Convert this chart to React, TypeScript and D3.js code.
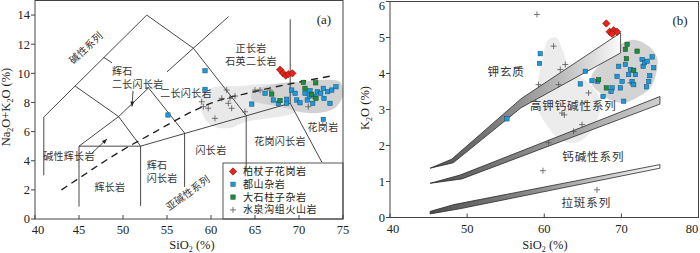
import { useEffect, useRef } from 'react';
import * as d3 from 'd3';

type Pt = [number, number];
type G = d3.Selection<SVGGElement, unknown, null, undefined>;

const serif = '"Liberation Serif", "Times New Roman", serif';
const cjk = '"Noto Sans CJK SC", sans-serif';

// ---------- (a) SiO2 vs Na2O+K2O ----------
const tasXTicks = [40, 45, 50, 55, 60, 65, 70, 75];
const tasYTicks = [0, 2, 4, 6, 8, 10, 12, 14];

// field boundaries
const tasLines: Pt[][] = [
  [[41, 3], [41, 7], [52.7, 14]],
  [[52.7, 14], [58, 11.72], [64, 7.1]],
  [[55, 10.1], [62, 13.9]],
  [[47.8, 11.1], [48.75, 10.72]],
  [[44.55, 9.13], [49.5, 7.03], [52, 5]],
  [[45, 5], [49.5, 7.03], [52.9, 9.0], [57, 5.9]],
  [[45, 0.85], [45, 5], [52, 5], [52, 0.9]],
  [[52, 5], [69, 7.95]],
  [[57, 5.9], [57, 2.2]],
  [[69, 13.7], [69, 7.95], [72.6, 3.9]],
];
const tasLineOverLegend: Pt[] = [[64, 7.1], [64, 3.3]];

// alkaline / subalkaline divide
const subAlkalineCurve: Pt[] = [
  [43, 2.0], [45, 2.8], [48, 4.0], [50, 4.75], [53.7, 6.0], [55, 6.45], [60, 7.95], [65, 8.75], [73.5, 9.8],
];

const shuiQuanFieldA: Pt[] = [
  [58.75, 8.17], [60.11, 8.99], [63.3, 9.13], [66.14, 9.27], [68.98, 9.13], [70.11, 8.17],
  [69.55, 7.34], [66.7, 6.93], [63.86, 6.66], [62.16, 6.25], [60.11, 6.38], [59.09, 7.14],
];
const duShanFieldA: Pt[] = [
  [64.66, 8.72], [67.27, 9.27], [70.11, 9.4], [72.39, 9.54], [74.66, 9.4], [75.0, 8.51],
  [74.09, 7.62], [72.16, 7.28], [70.11, 7.34], [68.41, 7.62], [66.14, 7.89], [64.66, 8.17],
];

const baiZhangZiA: Pt[] = [[67.85, 10.25], [68.2, 10.0], [68.5, 9.85], [68.8, 9.95], [69.25, 10.0]];
const duShanA: Pt[] = [
  [59.32, 10.18], [59.32, 8.9], [55.11, 7.14], [64.63, 7.89], [66.14, 8.63], [67.08, 8.17], [67.65, 7.94],
  [68.6, 8.22], [68.6, 7.94], [69.17, 8.85], [69.55, 8.63], [69.74, 8.17], [70.11, 7.98], [70.68, 8.63],
  [70.94, 8.17], [71.17, 8.44], [71.25, 8.81], [71.56, 7.94], [71.82, 8.39], [72.08, 8.74], [72.47, 8.63],
  [72.76, 8.97], [72.84, 8.28], [73.26, 8.74], [73.52, 7.94], [73.72, 8.85], [74.2, 9.08], [72.76, 6.84],
];
const daShiZhuZiA: Pt[] = [
  [66.9, 8.58], [67.84, 8.13], [70.49, 9.38], [71.9, 9.35], [70.68, 8.97], [71.44, 8.56], [71.93, 8.28],
];
const shuiQuanA: Pt[] = [
  [58.94, 8.05], [59.13, 7.71], [59.69, 7.6], [60.45, 6.91], [61.22, 8.28], [61.78, 8.85], [62.16, 8.28],
  [62.73, 8.44], [61.97, 7.94], [62.35, 7.6], [63.86, 7.36], [65.0, 8.85], [65.57, 8.85], [66.7, 8.85],
  [71.06, 7.71],
];

const tasLabels = [
  { t: '碱性系列', x: 45.8, y: 11.74, rot: -43 },
  { t: '辉石', x: 48.75, y: 10.1, anchor: 'start' },
  { t: '二长闪长岩', x: 48.75, y: 9.25, anchor: 'start' },
  { t: '二长闪长岩', x: 57.16, y: 8.61 },
  { t: '正长岩', x: 64.55, y: 11.7 },
  { t: '石英二长岩', x: 64.55, y: 10.82 },
  { t: '花岗岩', x: 72.73, y: 6.25 },
  { t: '花岗闪长岩', x: 67.84, y: 5.32 },
  { t: '闪长岩', x: 60.0, y: 4.67 },
  { t: '辉石', x: 52.69, y: 3.68, anchor: 'start' },
  { t: '闪长岩', x: 52.69, y: 2.8, anchor: 'start' },
  { t: '亚碱性系列', x: 57.39, y: 1.78, rot: -36 },
  { t: '碱性辉长岩', x: 43.86, y: 4.32 },
  { t: '辉长岩', x: 48.52, y: 2.13 },
];
const tasArrows: Pt[][] = [
  [[51.14, 8.8], [51.02, 7.72]],
  [[46.36, 4.46], [48.18, 5.49]],
];

// ---------- (b) SiO2 vs K2O ----------
const kXTicks = [40, 50, 60, 70, 80];
const kYTicks = [0, 1, 2, 3, 4, 5, 6];

const shoshoniteUpper: Pt[] = [[45.2, 1.37], [48, 1.62], [57, 3.3], [69.9, 5.13]];
const shoshoniteLower: Pt[] = [[45.2, 1.37], [48.2, 1.52], [57, 3.05], [69.9, 4.57]];
const highKUpper: Pt[] = [[45.2, 0.95], [49.1, 1.18], [75, 3.36]];
const highKLower: Pt[] = [[45.2, 0.95], [49.3, 1.07], [75, 3.15]];
const calcAlkUpper: Pt[] = [[45.2, 0.17], [48.3, 0.36], [75, 1.47]];
const calcAlkLower: Pt[] = [[45.2, 0.1], [49, 0.24], [75, 1.37]];

const shuiQuanFieldB: Pt[] = [
  [60.52, 4.94], [61.56, 5.0], [62.34, 4.67], [63.38, 4.16], [65.97, 3.69], [67.27, 3.27], [67.01, 2.77],
  [65.71, 2.3], [64.03, 2.07], [62.08, 2.16], [60.78, 2.44], [59.48, 2.86], [58.83, 3.27], [59.22, 3.83],
  [59.74, 4.39],
];
const duShanFieldB: Pt[] = [
  [66.19, 3.97], [67.27, 4.25], [68.57, 4.53], [69.87, 4.81], [71.6, 4.94], [73.55, 4.76], [74.64, 4.43],
  [74.42, 3.92], [73.55, 3.55], [72.25, 3.36], [70.3, 3.18], [68.57, 3.27], [67.27, 3.46], [66.19, 3.69],
];

const baiZhangZiB: Pt[] = [[68.05, 5.39], [68.48, 5.16], [69.0, 5.2], [69.44, 5.16], [68.79, 5.1]];
const duShanB: Pt[] = [
  [59.48, 4.55], [59.39, 4.28], [55.16, 2.74], [65.32, 4.06], [64.68, 3.71], [66.19, 3.8], [66.92, 3.78],
  [67.62, 3.36], [68.79, 3.6], [68.66, 3.5], [69.44, 3.92], [69.65, 4.2], [69.87, 3.6], [70.09, 3.78],
  [70.3, 3.23], [70.52, 4.25], [70.95, 3.97], [71.17, 4.11], [71.39, 3.78], [71.6, 3.69], [71.82, 3.97],
  [72.69, 4.39], [72.82, 4.2], [72.99, 4.3], [73.34, 4.34], [73.55, 3.78], [73.68, 3.94], [73.99, 4.46],
  [74.19, 4.16], [73.25, 3.63],
];
const daShiZhuZiB: Pt[] = [
  [70.74, 4.81], [70.52, 4.67], [72.04, 4.62], [70.65, 4.41], [71.6, 4.09], [67.05, 3.83], [68.05, 3.6],
];
const shuiQuanB: Pt[] = [
  [59.05, 5.64], [61.21, 4.76], [62.73, 4.25], [62.08, 4.11], [61.86, 3.69], [65.75, 3.46], [62.3, 2.9],
  [62.6, 2.85], [59.26, 3.69], [71.17, 3.74], [64.9, 2.58], [63.8, 2.39], [60.56, 2.08], [59.83, 1.3],
  [66.84, 0.77],
];

const kLabels = [
  { t: '钾玄质', x: 55.06, y: 4.03 },
  { t: '高钾钙碱性系列', x: 63.77, y: 3.11 },
  { t: '钙碱性系列', x: 66.36, y: 1.67 },
  { t: '拉斑系列', x: 65.45, y: 0.4 },
];

const legendItems = ['柏杖子花岗岩', '都山杂岩', '大石柱子杂岩', '水泉沟组火山岩'];
const markKinds = ['diamond', 'blue', 'green', 'plus'] as const;

type Scale = d3.ScaleLinear<number, number>;

function drawMark(g: G, kind: string, px: number, py: number) {
  if (kind === 'diamond') {
    g.append('rect').attr('x', px - 2.6).attr('y', py - 2.6).attr('width', 5.2).attr('height', 5.2)
      .attr('transform', `rotate(45,${px},${py})`)
      .attr('fill', '#e8231c').attr('stroke', '#7a120c').attr('stroke-width', 0.6);
  } else if (kind === 'plus') {
    g.append('path').attr('d', `M${px - 3},${py}H${px + 3}M${px},${py - 3}V${py + 3}`)
      .attr('stroke', '#555').attr('stroke-width', 0.8).attr('fill', 'none');
  } else {
    g.append('rect').attr('x', px - 2.2).attr('y', py - 2.2).attr('width', 4.4).attr('height', 4.4)
      .attr('fill', kind === 'blue' ? '#1f98d8' : '#1f8c3c')
      .attr('stroke', kind === 'blue' ? '#0e4f78' : '#0d4a1e').attr('stroke-width', 0.5);
  }
}

function drawPoints(g: G, pts: Pt[], kind: string, x: Scale, y: Scale) {
  pts.forEach(d => drawMark(g, kind, x(d[0]), y(d[1])));
}

function chemText(sel: d3.Selection<SVGTextElement, unknown, null, undefined>, parts: string[]) {
  // parts alternate normal / subscript
  parts.forEach((p, i) => {
    if (!p) return;
    const sub = i % 2 === 1;
    sel.append('tspan').text(p)
      .attr('font-size', sub ? 8 : null)
      .attr('dy', sub ? 3 : (i > 0 ? -3 : null));
  });
}

function drawAxes(g: G, x: Scale, y: Scale, xTicks: number[], yTicks: number[]) {
  const [x0, x1] = x.range();
  const [y0, y1] = y.range();
  g.append('rect').attr('x', x0).attr('y', y1).attr('width', x1 - x0).attr('height', y0 - y1)
    .attr('fill', 'none').attr('stroke', '#444').attr('stroke-width', 1);

  xTicks.forEach((t, i) => {
    g.append('line').attr('x1', x(t)).attr('x2', x(t)).attr('y1', y0).attr('y2', y0 - 4)
      .attr('stroke', '#444');
    let lx = x(t);
    if (i === 0) lx += 3;
    if (lx > 692) lx = 692;
    g.append('text').attr('x', lx).attr('y', y0 + 15).attr('text-anchor', 'middle')
      .attr('font-family', serif).attr('font-size', 12.5).attr('fill', '#222').text(t);
  });
  yTicks.forEach(t => {
    g.append('line').attr('x1', x0).attr('x2', x0 - 4).attr('y1', y(t)).attr('y2', y(t))
      .attr('stroke', '#444');
    const ly = Math.max(y(t), 6);
    g.append('text').attr('x', x0 - 5).attr('y', ly + 4.3).attr('text-anchor', 'end')
      .attr('font-family', serif).attr('font-size', 12.5).attr('fill', '#222').text(t);
  });
}

function smoothArea(pts: Pt[], x: Scale, y: Scale) {
  return d3.line<Pt>().x(d => x(d[0])).y(d => y(d[1])).curve(d3.curveCatmullRomClosed.alpha(0.5))(pts) ?? '';
}

function drawTAS(g: G) {
  const x = d3.scaleLinear().domain([40, 75]).range([35, 343]);
  const y = d3.scaleLinear().domain([0, 15]).range([219, 0.5]);
  const line = d3.line<Pt>().x(d => x(d[0])).y(d => y(d[1]));

  g.append('path').attr('d', smoothArea(shuiQuanFieldA, x, y)).attr('fill', '#e9e9e9');
  g.append('path').attr('d', smoothArea(duShanFieldA, x, y)).attr('fill', '#d2d2d2');

  // legend box first so a field line can run over its top
  const lg = g.append('g');
  lg.append('rect').attr('x', 223).attr('y', 163).attr('width', 120).attr('height', 56)
    .attr('fill', '#fff').attr('stroke', '#444').attr('stroke-width', 0.9);

  tasLines.forEach(l => {
    g.append('path').attr('d', line(l)).attr('fill', 'none').attr('stroke', '#333').attr('stroke-width', 0.9);
  });
  g.append('path').attr('d', line(tasLineOverLegend)).attr('fill', 'none').attr('stroke', '#333').attr('stroke-width', 0.9);

  g.append('path').attr('d', line.curve(d3.curveMonotoneX)(subAlkalineCurve))
    .attr('fill', 'none').attr('stroke', '#222').attr('stroke-width', 1.4).attr('stroke-dasharray', '7,5');

  // arrows
  tasArrows.forEach(a => {
    const [p, q] = a.map(d => [x(d[0]), y(d[1])]);
    const ang = Math.atan2(q[1] - p[1], q[0] - p[0]);
    g.append('line').attr('x1', p[0]).attr('y1', p[1]).attr('x2', q[0]).attr('y2', q[1])
      .attr('stroke', '#222').attr('stroke-width', 0.8);
    const hl = 5, hw = 2;
    const bx = q[0] - hl * Math.cos(ang), by = q[1] - hl * Math.sin(ang);
    g.append('path')
      .attr('d', `M${q[0]},${q[1]}L${bx - hw * Math.sin(ang)},${by + hw * Math.cos(ang)}L${bx + hw * Math.sin(ang)},${by - hw * Math.cos(ang)}Z`)
      .attr('fill', '#222');
  });

  tasLabels.forEach(l => {
    const t = g.append('text').attr('x', x(l.x)).attr('y', y(l.y)).attr('dy', '0.35em')
      .attr('text-anchor', l.anchor ?? 'middle').attr('font-family', cjk).attr('font-size', 10)
      .attr('letter-spacing', 0.3).attr('fill', '#333').text(l.t);
    if (l.rot) t.attr('transform', `rotate(${l.rot},${x(l.x)},${y(l.y)})`);
  });

  drawPoints(g, shuiQuanA, 'plus', x, y);
  drawPoints(g, duShanA, 'blue', x, y);
  drawPoints(g, daShiZhuZiA, 'green', x, y);
  drawPoints(g, baiZhangZiA, 'diamond', x, y);

  legendItems.forEach((name, i) => {
    const cy = 171.5 + i * 12.8;
    drawMark(lg, markKinds[i], 233, cy);
    lg.append('text').attr('x', 243).attr('y', cy).attr('dy', '0.35em')
      .attr('font-family', cjk).attr('font-size', 10).attr('letter-spacing', 0.6).attr('fill', '#222').text(name);
  });

  g.append('text').attr('x', x(72.84)).attr('y', y(13.73)).attr('dy', '0.35em').attr('text-anchor', 'middle')
    .attr('font-family', serif).attr('font-size', 13).attr('fill', '#222').text('(a)');

  drawAxes(g, x, y, tasXTicks, tasYTicks);

  const xt = g.append('text').attr('x', 192).attr('y', 249).attr('text-anchor', 'middle')
    .attr('font-family', serif).attr('font-size', 12.5).attr('fill', '#222');
  chemText(xt, ['SiO', '2', ' (%)']);
  const yt = g.append('text').attr('transform', 'translate(10,107) rotate(-90)').attr('text-anchor', 'middle')
    .attr('font-family', serif).attr('font-size', 12.5).attr('fill', '#222');
  chemText(yt, ['Na', '2', 'O+K', '2', 'O (%)']);
}

function drawK2O(g: G) {
  const x = d3.scaleLinear().domain([40, 80]).range([390, 698.5]);
  const y = d3.scaleLinear().domain([0, 6]).range([217.5, 1.5]);
  const line = d3.line<Pt>().x(d => x(d[0])).y(d => y(d[1]));

  g.append('path').attr('d', smoothArea(shuiQuanFieldB, x, y)).attr('fill', '#ececec');
  g.append('path').attr('d', smoothArea(duShanFieldB, x, y)).attr('fill', '#d3d3d3');

  const defs = g.append('defs');
  const bands: [Pt[], Pt[], string, string][] = [
    [shoshoniteUpper, shoshoniteLower, 'band-sho', '#fafafa'],
    [highKUpper, highKLower, 'band-hk', '#cfcfcf'],
    [calcAlkUpper, calcAlkLower, 'band-ca', '#fafafa'],
  ];
  bands.forEach(([up, lo, id, end]) => {
    const gr = defs.append('linearGradient').attr('id', id).attr('gradientUnits', 'userSpaceOnUse')
      .attr('x1', x(up[0][0])).attr('x2', x(up[up.length - 1][0])).attr('y1', 0).attr('y2', 0);
    gr.append('stop').attr('offset', '0%').attr('stop-color', '#4e4e4e');
    gr.append('stop').attr('offset', '45%').attr('stop-color', '#8c8c8c');
    gr.append('stop').attr('offset', '100%').attr('stop-color', end);
    g.append('path').attr('d', line([...up, ...lo.slice().reverse()]) + 'Z')
      .attr('fill', `url(#${id})`).attr('stroke', '#2a2a2a').attr('stroke-width', 0.8)
      .attr('stroke-linejoin', 'round');
  });

  drawPoints(g, shuiQuanB, 'plus', x, y);
  drawPoints(g, duShanB, 'blue', x, y);
  drawPoints(g, daShiZhuZiB, 'green', x, y);
  drawPoints(g, baiZhangZiB, 'diamond', x, y);

  kLabels.forEach(l => {
    g.append('text').attr('x', x(l.x)).attr('y', y(l.y)).attr('dy', '0.35em').attr('text-anchor', 'middle')
      .attr('font-family', cjk).attr('font-size', 11.5).attr('letter-spacing', 0.9).attr('fill', '#333').text(l.t);
  });

  g.append('text').attr('x', 680).attr('y', 20).attr('dy', '0.35em').attr('text-anchor', 'middle')
    .attr('font-family', serif).attr('font-size', 13).attr('fill', '#222').text('(b)');

  drawAxes(g, x, y, kXTicks, kYTicks);

  const xt = g.append('text').attr('x', 545).attr('y', 249).attr('text-anchor', 'middle')
    .attr('font-family', serif).attr('font-size', 12.5).attr('fill', '#222');
  chemText(xt, ['SiO', '2', ' (%)']);
  const yt = g.append('text').attr('transform', 'translate(369,108) rotate(-90)').attr('text-anchor', 'middle')
    .attr('font-family', serif).attr('font-size', 12.5).attr('fill', '#222');
  chemText(yt, ['K', '2', 'O (%)']);
}

export default function App() {
  const svgRef = useRef<SVGSVGElement>(null);

  useEffect(() => {
    if (!svgRef.current) return;
    const svg = d3.select(svgRef.current);
    svg.selectAll('*').remove();
    drawTAS(svg.append('g') as unknown as G);
    drawK2O(svg.append('g') as unknown as G);
  }, []);

  return (
    <>
      <style>{'body{margin:0;background:#fff}'}</style>
      <svg ref={svgRef} width={700} height={253} style={{ display: 'block' }} />
    </>
  );
}
